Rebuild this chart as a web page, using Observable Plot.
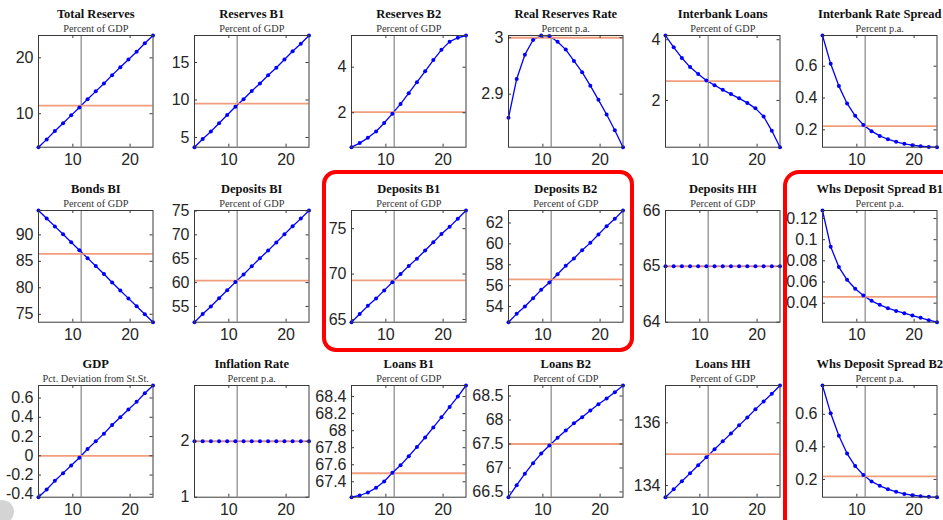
<!DOCTYPE html>
<html>
<head>
<meta charset="utf-8">
<script src="https://cdn.jsdelivr.net/npm/d3@7"></script>
<script src="https://cdn.jsdelivr.net/npm/@observablehq/plot@0.6"></script>
<style>
  body { margin: 0; background: #fff; }
  #fig { position: relative; width: 943px; height: 520px; overflow: hidden; background: #fff; }
  .panel { position: absolute; }
  .panel svg { overflow: visible; }
  #overlay { position: absolute; left: 0; top: 0; pointer-events: none; }
</style>
</head>
<body>
<div id="fig"></div>
<script>
// Reserve requirement grid (percent) on the horizontal axis of every panel
const reqGrid = [4, 5.43, 6.86, 8.29, 9.71, 11.14, 12.57, 14, 15.43, 16.86, 18.29, 19.71, 21.14, 22.57, 24];
const calibration = 11.45;
const xTickValues = [10, 20];

// Steady-state outcomes along the grid
const totalReserves   = [4.0, 5.4, 6.9, 8.3, 9.7, 11.1, 12.6, 14.0, 15.4, 16.9, 18.3, 19.7, 21.1, 22.6, 24.0];
const reservesB1      = [3.7, 4.8, 5.8, 6.9, 8.0, 9.1, 10.1, 11.2, 12.2, 13.3, 14.3, 15.4, 16.5, 17.5, 18.6];
const reservesB2      = [0.49, 0.67, 0.90, 1.18, 1.55, 1.96, 2.39, 2.86, 3.34, 3.82, 4.31, 4.76, 5.12, 5.29, 5.39];
const realResRate     = [2.858, 2.927, 2.970, 2.996, 3.004, 3.003, 2.993, 2.979, 2.959, 2.939, 2.915, 2.890, 2.864, 2.836, 2.806];
const interbankLoans  = [4.14, 3.75, 3.40, 3.10, 2.87, 2.66, 2.50, 2.35, 2.21, 2.07, 1.92, 1.74, 1.47, 1.00, 0.46];
const interbankSpread = [0.793, 0.615, 0.475, 0.366, 0.288, 0.231, 0.192, 0.162, 0.141, 0.125, 0.112, 0.104, 0.097, 0.093, 0.091];
const bondsBI         = [94.6, 93.1, 91.6, 90.1, 88.6, 87.1, 85.6, 84.1, 82.6, 81.0, 79.5, 78.0, 76.5, 75.0, 73.5];
const depositsBI      = [51.7, 53.4, 55.0, 56.7, 58.4, 60.1, 61.7, 63.4, 65.1, 66.7, 68.4, 70.1, 71.8, 73.4, 75.1];
const depositsB1      = [64.7, 65.6, 66.5, 67.3, 68.2, 69.1, 70.0, 70.9, 71.7, 72.6, 73.5, 74.4, 75.2, 76.1, 77.0];
const depositsB2      = [52.5, 53.3, 54.0, 54.8, 55.6, 56.3, 57.1, 57.9, 58.6, 59.4, 60.1, 60.9, 61.7, 62.4, 63.2];
const depositsHH      = [65, 65, 65, 65, 65, 65, 65, 65, 65, 65, 65, 65, 65, 65, 65];
const whsSpreadB1     = [0.1276, 0.0934, 0.0741, 0.0621, 0.0536, 0.0473, 0.0422, 0.0384, 0.0353, 0.0327, 0.0305, 0.0283, 0.0261, 0.0239, 0.0220];
const gdp             = [-0.43, -0.35, -0.26, -0.18, -0.10, -0.02, 0.07, 0.15, 0.23, 0.32, 0.40, 0.48, 0.56, 0.65, 0.73];
const inflation       = [2, 2, 2, 2, 2, 2, 2, 2, 2, 2, 2, 2, 2, 2, 2];
const loansB1         = [67.219, 67.239, 67.274, 67.329, 67.404, 67.506, 67.593, 67.699, 67.809, 67.920, 68.038, 68.156, 68.278, 68.400, 68.530];
const loansB2         = [66.39, 66.64, 66.88, 67.10, 67.30, 67.47, 67.63, 67.78, 67.93, 68.06, 68.20, 68.33, 68.45, 68.58, 68.72];
const loansHH         = [133.63, 133.88, 134.14, 134.39, 134.65, 134.90, 135.16, 135.41, 135.66, 135.92, 136.17, 136.43, 136.68, 136.93, 137.19];
const whsSpreadB2     = [0.777, 0.606, 0.468, 0.359, 0.282, 0.227, 0.188, 0.161, 0.140, 0.124, 0.111, 0.103, 0.097, 0.093, 0.091];

// Panel titles, units, baseline steady state and y tick labels
const titles = ["Total Reserves", "Reserves B1", "Reserves B2", "Real Reserves Rate", "Interbank Loans", "Interbank Rate Spread",
                "Bonds BI", "Deposits BI", "Deposits B1", "Deposits B2", "Deposits HH", "Whs Deposit Spread B1",
                "GDP", "Inflation Rate", "Loans B1", "Loans B2", "Loans HH", "Whs Deposit Spread B2"];
const units = ["Percent of GDP", "Percent of GDP", "Percent of GDP", "Percent p.a.", "Percent of GDP", "Percent p.a.",
               "Percent of GDP", "Percent of GDP", "Percent of GDP", "Percent of GDP", "Percent of GDP", "Percent p.a.",
               "Pct. Deviation from St.St.", "Percent p.a.", "Percent of GDP", "Percent of GDP", "Percent of GDP", "Percent p.a."];
const series = [totalReserves, reservesB1, reservesB2, realResRate, interbankLoans, interbankSpread,
                bondsBI, depositsBI, depositsB1, depositsB2, depositsHH, whsSpreadB1,
                gdp, inflation, loansB1, loansB2, loansHH, whsSpreadB2];
const steadyState = [11.43, 9.5, 2.03, 3.0, 2.64, 0.223,
                     86.4, 60.4, 69.3, 56.6, 65, 0.046,
                     0, 2, 67.5, 67.5, 135, 0.219];
const yTickValues = [
  [10, 20], [5, 10, 15], [2, 4], [2.9, 3], [2, 4], [0.2, 0.4, 0.6],
  [75, 80, 85, 90], [55, 60, 65, 70, 75], [65, 70, 75], [54, 56, 58, 60, 62], [64, 65, 66], [0.04, 0.06, 0.08, 0.1, 0.12],
  [-0.4, -0.2, 0, 0.2, 0.4, 0.6], [1, 2], [67.4, 67.6, 67.8, 68, 68.2, 68.4], [66.5, 67, 67.5, 68, 68.5], [134, 136], [0.2, 0.4, 0.6]
];
// flat series get a fixed window around their level
const fixedDomain = {10: [64, 66], 13: [1, 3]};

const fig = document.getElementById("fig");

// layout of the 3 x 6 grid of axes boxes
const colLeft = c => 37.5 + c * 156.8;
const rowTop = r => 35 + r * 175;
const innerW = 114.5, innerH = 111.7;
const mL = 40, mR = 2.5, mT = 35, mB = 28.3;

const axisInk = "#3a3a3a";
const ssColor = "#EE9470";
const blue = "#0000FF";
const serif = "Liberation Serif, Times New Roman, serif";

series.forEach((vals, i) => {
  const r = Math.floor(i / 6), c = i % 6;
  const rows = reqGrid.map((x, k) => ({x, y: vals[k]}));
  const domain = fixedDomain[i] ?? d3.extent(vals.concat([steadyState[i]]));
  const yt = yTickValues[i];

  const chart = Plot.plot({
    width: mL + innerW + mR,
    height: mT + innerH + mB,
    marginLeft: mL, marginRight: mR, marginTop: mT, marginBottom: mB,
    style: {fontFamily: "Liberation Sans, Arial, sans-serif", fontSize: "16px", color: "#262626", background: "transparent", overflow: "visible"},
    x: {domain: [4, 24], label: null},
    y: {domain, label: null},
    marks: [
      Plot.ruleX([calibration], {stroke: "#6e6e6e", strokeWidth: 1}),
      Plot.line(rows, {x: "x", y: "y", stroke: blue, strokeWidth: 1.3}),
      Plot.ruleY([steadyState[i]], {stroke: ssColor, strokeWidth: 1.8, strokeOpacity: 0.9}),
      Plot.dot(rows, {x: "x", y: "y", r: 2, fill: blue, stroke: null}),
      Plot.frame({stroke: axisInk, strokeWidth: 1}),
      // inward tick marks on all four sides
      Plot.tickY(yt, {y: d => d, insetRight: innerW - 3, stroke: axisInk}),
      Plot.tickY(yt, {y: d => d, insetLeft: innerW - 3, stroke: axisInk}),
      Plot.tickX(xTickValues, {x: d => d, insetTop: innerH - 3, stroke: axisInk}),
      Plot.tickX(xTickValues, {x: d => d, insetBottom: innerH - 3, stroke: axisInk}),
      Plot.axisY({ticks: yt, tickSize: 0, tickPadding: 5, tickFormat: d => String(d), fontSize: 16, fill: "#262626", label: null}),
      Plot.axisX({ticks: xTickValues, tickSize: 0, tickPadding: 6, tickFormat: d => String(d), fontSize: 16, fill: "#262626", label: null}),
      Plot.text([titles[i]], {frameAnchor: "top", dy: -17.5, lineAnchor: "bottom", fontWeight: "bold", fontFamily: serif, fontSize: 12.5, fill: "#111"}),
      Plot.text([units[i]], {frameAnchor: "top", dy: -3.3, lineAnchor: "bottom", fontFamily: serif, fontSize: 10.3, fill: "#333"})
    ]
  });
  const holder = document.createElement("div");
  holder.className = "panel";
  holder.style.left = (colLeft(c) - mL) + "px";
  holder.style.top = (rowTop(r) - mT) + "px";
  holder.appendChild(chart);
  fig.appendChild(holder);
});

// highlight frames around groups of panels
const overlay = d3.select(fig).append("svg")
  .attr("id", "overlay").attr("width", 943).attr("height", 520);
overlay.append("rect")
  .attr("x", 324).attr("y", 172).attr("width", 308).attr("height", 178).attr("rx", 12)
  .attr("fill", "none").attr("stroke", "#FF0000").attr("stroke-width", 4);
overlay.append("rect")
  .attr("x", 785).attr("y", 172).attr("width", 220).attr("height", 420).attr("rx", 14)
  .attr("fill", "none").attr("stroke", "#FF0000").attr("stroke-width", 4);
overlay.append("circle")
  .attr("cx", 2).attr("cy", 512).attr("r", 12)
  .attr("fill", "#cfcfcf").attr("opacity", 0.9);
</script>
</body>
</html>
